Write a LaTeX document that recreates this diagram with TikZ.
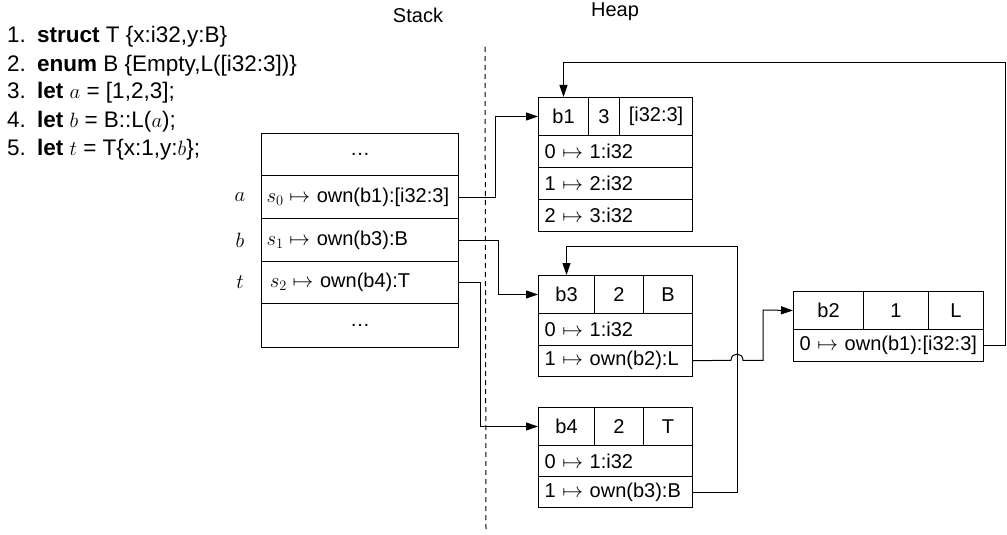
\documentclass[tikz,border=0pt]{standalone}
\usepackage{fontspec}
\setmainfont{Liberation Sans}
\usetikzlibrary{arrows.meta}
\tikzset{
  hcell/.style={draw, line width=1pt, anchor=north west, inner sep=0pt, minimum height=38pt},
  rcell/.style={draw, line width=1pt, anchor=north west, inner xsep=6pt, inner ysep=0pt, align=left},
  scell/.style={draw, line width=1pt, anchor=north west, inner xsep=5pt, inner ysep=0pt, text width=187pt, align=left},
  codeline/.style={anchor=base west, inner sep=0pt, font=\fontsize{22.5}{27}\selectfont},
  varlbl/.style={inner sep=0pt, font=\fontsize{21}{25}\selectfont},
  arr/.style={line width=1pt, -{Triangle[length=12pt,width=8pt]}},
  sep/.style={line width=1pt, dash pattern=on 5pt off 4pt},
}
\begin{document}
\begin{tikzpicture}[x=1pt,y=-1pt, every node/.append style={font=\fontsize{20}{24}\selectfont}]
\useasboundingbox (0,0) rectangle (1007,535);

% code listing
\node[codeline] (c1) at (7,43)  {\makebox[30pt][l]{1.}\textbf{struct} T \{x:i32,y:B\}};
\node[codeline] (c2) at (7,71)  {\makebox[30pt][l]{2.}\textbf{enum} B \{Empty,L([i32:3])\}};
\node[codeline] (c3) at (7,99)  {\makebox[30pt][l]{3.}\textbf{let} $a$ = [1,2,3];};
\node[codeline] (c4) at (7,127) {\makebox[30pt][l]{4.}\textbf{let} $b$ = B::L($a$);};
\node[codeline] (c5) at (7,155) {\makebox[30pt][l]{5.}\textbf{let} $t$ = T\{x:1,y:$b$\};};

% titles
\node (stk) at (418,15) {Stack};
\node (hp) at (615,12) {Heap};

% separator
\coordinate (dtop) at (485,47);
\coordinate (dbot) at (486,530);
\draw[sep] (dtop) -- (dbot);

% stack
\node[scell, minimum height=42pt, align=center] (sd1) at (261,133) {\ldots};
\node[scell, minimum height=43pt] (sa) at (261,175) {$s_0 \mapsto$ own(b1):[i32:3]};
\node[scell, minimum height=43pt] (sb) at (261,218) {$s_1 \mapsto$ own(b3):B};
\node[scell, minimum height=42pt] (st) at (261,261) {\,$s_2 \mapsto$ own(b4):T};
\node[scell, minimum height=44pt, align=center] (sd2) at (261,303) {\ldots};

\node[varlbl] (la) at (240,197) {$a$};
\node[varlbl] (lb) at (240,240) {$b$};
\node[varlbl] (lt) at (240,282) {$t$};

% heap block b1
\node[hcell, minimum width=50pt] (b1a) at (538,97) {b1};
\node[hcell, minimum width=31pt] (b1b) at (588,97) {3};
\node[hcell, minimum width=73pt] (b1c) at (619,97) {[i32:3]};
\node[rcell, text width=142pt, minimum height=32pt] (b1r0) at (538,135) {0 $\mapsto$ 1:i32};
\node[rcell, text width=142pt, minimum height=32pt] (b1r1) at (538,167) {1 $\mapsto$ 2:i32};
\node[rcell, text width=142pt, minimum height=32pt] (b1r2) at (538,199) {2 $\mapsto$ 3:i32};

% heap block b3
\node[hcell, minimum width=56pt] (b3a) at (538,275) {b3};
\node[hcell, minimum width=49pt] (b3b) at (594,275) {2};
\node[hcell, minimum width=49pt] (b3c) at (643,275) {B};
\node[rcell, text width=142pt, minimum height=31.5pt] (b3r0) at (538,313) {0 $\mapsto$ 1:i32};
\node[rcell, text width=142pt, minimum height=31.5pt] (b3r1) at (538,344.5) {1 $\mapsto$ own(b2):L};

% heap block b4
\node[hcell, minimum width=56pt] (b4a) at (538,407) {b4};
\node[hcell, minimum width=49pt] (b4b) at (594,407) {2};
\node[hcell, minimum width=49pt] (b4c) at (643,407) {T};
\node[rcell, text width=142pt, minimum height=31pt] (b4r0) at (538,445) {0 $\mapsto$ 1:i32};
\node[rcell, text width=142pt, minimum height=31pt] (b4r1) at (538,476) {1 $\mapsto$ own(b3):B};

% heap block b2
\node[hcell, minimum width=70pt] (b2a) at (793,291) {b2};
\node[hcell, minimum width=65pt] (b2b) at (863,291) {1};
\node[hcell, minimum width=55pt] (b2c) at (928,291) {L};
\node[rcell, text width=178pt, minimum height=32pt] (b2r0) at (793,329) {0 $\mapsto$ own(b1):[i32:3]};

% connectors from stack
\draw[arr] (sa.east) -- ++(36,0) |- (b1a.west);
\draw[arr] (sb.east) -- ++(39,0) |- (b3a.west);
\draw[arr] (st.east) -- ++(21,0) |- (b4a.west);

% b4 -> b3
\coordinate (k1) at (737,246);
\draw[arr] (b4r1.east) -| (k1) -| (b3a.north);

% b3 -> b2 with a jump over the vertical line
\coordinate (jA) at (731,360.25);
\coordinate (jB) at (743,360.25);
\coordinate (k2) at (763,310);
\draw[arr] (b3r1.east) -- (jA) .. controls (731,352) and (743,352) .. (jB) -| (k2) -- (b2a.west);

% b2 -> b1
\coordinate (k3) at (1005,63);
\draw[arr] (b2r0.east) -| (k3) -| (b1a.north);
\end{tikzpicture}
\end{document}
